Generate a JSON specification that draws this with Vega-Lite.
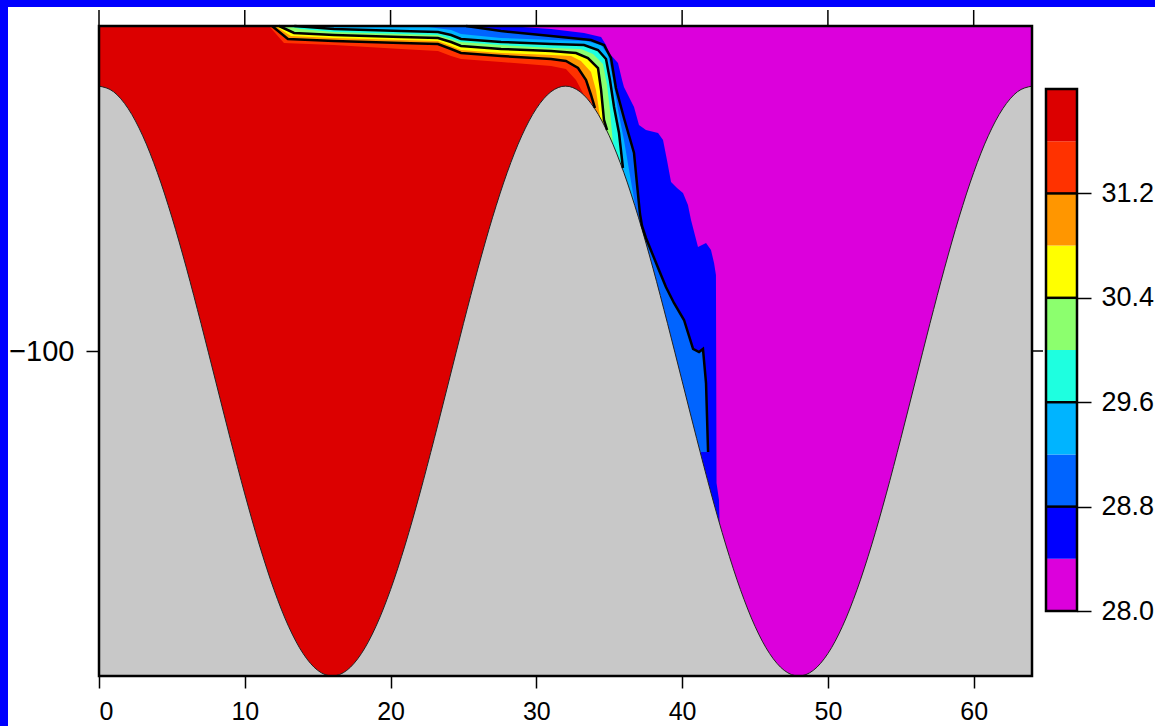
{
 "$schema": "https://vega.github.io/schema/vega-lite/v6.json",
 "background": "white",
 "padding": 0,
 "spacing": 0,
 "config": {
  "view": {"stroke": null},
  "axis": {"labelFont": "Liberation Sans", "labelFontSize": 27, "labelColor": "#000", "tickColor": "#000", "tickWidth": 1.5, "grid": false, "domain": false, "title": null}
 },
 "datasets": {
  "bnd": [
   {"b":9,"x":11.66,"z":0},{"b":9,"x":12.69,"z":-5.23},{"b":9,"x":16.12,"z":-5.85},{"b":9,"x":20.72,"z":-7.08},{"b":9,"x":23.25,"z":-7.69},{"b":9,"x":24.15,"z":-9.23},{"b":9,"x":24.83,"z":-10.15},{"b":9,"x":27.58,"z":-11.08},{"b":9,"x":31.01,"z":-12.31},{"b":9,"x":32.03,"z":-13.23},{"b":9,"x":32.72,"z":-16.62},{"b":9,"x":33.27,"z":-21.23},{"b":9,"x":33.34,"z":-200},{"b":9,"x":64,"z":-200},
   {"b":8,"x":11.87,"z":0},{"b":8,"x":12.96,"z":-4.0},{"b":8,"x":16.12,"z":-4.62},{"b":8,"x":20.72,"z":-5.23},{"b":8,"x":23.25,"z":-5.54},{"b":8,"x":24.15,"z":-7.08},{"b":8,"x":24.83,"z":-8.31},{"b":8,"x":27.58,"z":-9.23},{"b":8,"x":31.01,"z":-10.15},{"b":8,"x":32.03,"z":-10.77},{"b":8,"x":32.86,"z":-12.92},{"b":8,"x":33.41,"z":-16.62},{"b":8,"x":33.75,"z":-21.23},{"b":8,"x":34.02,"z":-25.23},{"b":8,"x":34.09,"z":-200},{"b":8,"x":64,"z":-200},
   {"b":7,"x":12.07,"z":0},{"b":7,"x":13.17,"z":-3.08},{"b":7,"x":16.12,"z":-3.69},{"b":7,"x":20.72,"z":-4.31},{"b":7,"x":23.25,"z":-4.62},{"b":7,"x":24.15,"z":-6.15},{"b":7,"x":24.83,"z":-7.38},{"b":7,"x":27.58,"z":-8.31},{"b":7,"x":31.01,"z":-8.92},{"b":7,"x":32.38,"z":-9.23},{"b":7,"x":33.06,"z":-10.77},{"b":7,"x":33.75,"z":-14.15},{"b":7,"x":34.09,"z":-19.69},{"b":7,"x":34.37,"z":-28.0},{"b":7,"x":34.44,"z":-200},{"b":7,"x":64,"z":-200},
   {"b":6,"x":12.35,"z":0},{"b":6,"x":13.38,"z":-2.15},{"b":6,"x":16.12,"z":-2.77},{"b":6,"x":20.72,"z":-3.38},{"b":6,"x":23.25,"z":-3.69},{"b":6,"x":24.15,"z":-4.92},{"b":6,"x":24.83,"z":-6.15},{"b":6,"x":27.58,"z":-7.08},{"b":6,"x":31.01,"z":-7.69},{"b":6,"x":32.72,"z":-8.31},{"b":6,"x":33.54,"z":-9.85},{"b":6,"x":34.23,"z":-12.92},{"b":6,"x":34.44,"z":-19.69},{"b":6,"x":34.64,"z":-28.92},{"b":6,"x":34.85,"z":-32.0},{"b":6,"x":34.92,"z":-200},{"b":6,"x":64,"z":-200},
   {"b":5,"x":12.83,"z":0},{"b":5,"x":13.86,"z":-0.92},{"b":5,"x":16.12,"z":-1.85},{"b":5,"x":20.72,"z":-2.46},{"b":5,"x":23.25,"z":-2.77},{"b":5,"x":24.15,"z":-4.0},{"b":5,"x":24.83,"z":-4.92},{"b":5,"x":27.58,"z":-5.85},{"b":5,"x":31.01,"z":-6.77},{"b":5,"x":33.06,"z":-7.08},{"b":5,"x":33.89,"z":-8.62},{"b":5,"x":34.57,"z":-11.69},{"b":5,"x":34.85,"z":-18.15},{"b":5,"x":35.05,"z":-25.85},{"b":5,"x":35.26,"z":-36.31},{"b":5,"x":35.33,"z":-200},{"b":5,"x":64,"z":-200},
   {"b":4,"x":13.4,"z":0},{"b":4,"x":16.12,"z":-0.92},{"b":4,"x":20.72,"z":-1.54},{"b":4,"x":23.25,"z":-1.85},{"b":4,"x":24.15,"z":-2.77},{"b":4,"x":24.83,"z":-4.0},{"b":4,"x":27.58,"z":-4.92},{"b":4,"x":31.01,"z":-5.54},{"b":4,"x":33.27,"z":-5.85},{"b":4,"x":34.23,"z":-7.38},{"b":4,"x":34.78,"z":-10.15},{"b":4,"x":35.05,"z":-16.62},{"b":4,"x":35.33,"z":-24.92},{"b":4,"x":35.67,"z":-32.92},{"b":4,"x":35.94,"z":-43.69},{"b":4,"x":36.01,"z":-200},{"b":4,"x":64,"z":-200},
   {"b":3,"x":22.09,"z":0},{"b":3,"x":24.15,"z":-1.23},{"b":3,"x":24.83,"z":-2.46},{"b":3,"x":27.58,"z":-3.69},{"b":3,"x":31.01,"z":-4.31},{"b":3,"x":33.41,"z":-4.62},{"b":3,"x":34.44,"z":-5.85},{"b":3,"x":34.92,"z":-8.92},{"b":3,"x":35.26,"z":-16.62},{"b":3,"x":35.60,"z":-25.85},{"b":3,"x":36.01,"z":-35.08},{"b":3,"x":36.36,"z":-44.31},{"b":3,"x":36.77,"z":-55.08},{"b":3,"x":36.84,"z":-200},{"b":3,"x":64,"z":-200},
   {"b":2,"x":25.18,"z":0},{"b":2,"x":27.58,"z":-1.54},{"b":2,"x":31.01,"z":-3.08},{"b":2,"x":33.75,"z":-4.31},{"b":2,"x":34.64,"z":-5.85},{"b":2,"x":35.12,"z":-9.85},{"b":2,"x":35.46,"z":-19.08},{"b":2,"x":36.01,"z":-28.31},{"b":2,"x":36.70,"z":-39.08},{"b":2,"x":36.91,"z":-48.92},{"b":2,"x":37.11,"z":-57.85},{"b":2,"x":37.25,"z":-61.54},{"b":2,"x":37.52,"z":-65.23},{"b":2,"x":38.41,"z":-75.08},{"b":2,"x":38.89,"z":-80.31},{"b":2,"x":39.44,"z":-85.23},{"b":2,"x":40.13,"z":-90.46},{"b":2,"x":40.75,"z":-99.38},{"b":2,"x":41.16,"z":-100.31},{"b":2,"x":41.43,"z":-99.38},{"b":2,"x":41.64,"z":-109.85},{"b":2,"x":41.78,"z":-131.08},{"b":2,"x":41.85,"z":-200},{"b":2,"x":64,"z":-200},
   {"b":1,"x":28.06,"z":0},{"b":1,"x":31.01,"z":-0.92},{"b":1,"x":33.27,"z":-2.15},{"b":1,"x":34.44,"z":-3.38},{"b":1,"x":34.78,"z":-5.85},{"b":1,"x":34.98,"z":-8.31},{"b":1,"x":35.60,"z":-11.38},{"b":1,"x":35.88,"z":-16.62},{"b":1,"x":36.01,"z":-18.77},{"b":1,"x":36.70,"z":-24.92},{"b":1,"x":37.04,"z":-30.46},{"b":1,"x":37.52,"z":-32.0},{"b":1,"x":38.35,"z":-32.92},{"b":1,"x":38.69,"z":-35.08},{"b":1,"x":38.96,"z":-41.23},{"b":1,"x":39.24,"z":-48.0},{"b":1,"x":39.65,"z":-49.85},{"b":1,"x":40.06,"z":-51.38},{"b":1,"x":40.40,"z":-55.08},{"b":1,"x":40.61,"z":-59.69},{"b":1,"x":41.09,"z":-68.0},{"b":1,"x":41.64,"z":-66.77},{"b":1,"x":41.98,"z":-68.92},{"b":1,"x":42.19,"z":-72.92},{"b":1,"x":42.32,"z":-76.62},{"b":1,"x":42.36,"z":-140.62},{"b":1,"x":42.53,"z":-145.85},{"b":1,"x":42.56,"z":-152.0},{"b":1,"x":42.63,"z":-200},{"b":1,"x":64,"z":-200}
  ],
  "patch": [{"x":41.2,"z":-131.08},{"x":41.9,"z":-131.08}],
  "bathy": [
   {"x":0,"z":-18.5},{"x":1,"z":-20.24},{"x":2,"z":-25.41},{"x":3,"z":-33.79},{"x":4,"z":-45.08},{"x":5,"z":-58.83},{"x":6,"z":-74.52},{"x":7,"z":-91.55},{"x":8,"z":-109.25},{"x":9,"z":-126.95},{"x":10,"z":-143.98},{"x":11,"z":-159.67},{"x":12,"z":-173.42},{"x":13,"z":-184.71},{"x":14,"z":-193.09},{"x":15,"z":-198.26},{"x":16,"z":-200},
   {"x":17,"z":-198.26},{"x":18,"z":-193.09},{"x":19,"z":-184.71},{"x":20,"z":-173.42},{"x":21,"z":-159.67},{"x":22,"z":-143.98},{"x":23,"z":-126.95},{"x":24,"z":-109.25},{"x":25,"z":-91.55},{"x":26,"z":-74.52},{"x":27,"z":-58.83},{"x":28,"z":-45.08},{"x":29,"z":-33.79},{"x":30,"z":-25.41},{"x":31,"z":-20.24},{"x":32,"z":-18.5},
   {"x":33,"z":-20.24},{"x":34,"z":-25.41},{"x":35,"z":-33.79},{"x":36,"z":-45.08},{"x":37,"z":-58.83},{"x":38,"z":-74.52},{"x":39,"z":-91.55},{"x":40,"z":-109.25},{"x":41,"z":-126.95},{"x":42,"z":-143.98},{"x":43,"z":-159.67},{"x":44,"z":-173.42},{"x":45,"z":-184.71},{"x":46,"z":-193.09},{"x":47,"z":-198.26},{"x":48,"z":-200},
   {"x":49,"z":-198.26},{"x":50,"z":-193.09},{"x":51,"z":-184.71},{"x":52,"z":-173.42},{"x":53,"z":-159.67},{"x":54,"z":-143.98},{"x":55,"z":-126.95},{"x":56,"z":-109.25},{"x":57,"z":-91.55},{"x":58,"z":-74.52},{"x":59,"z":-58.83},{"x":60,"z":-45.08},{"x":61,"z":-33.79},{"x":62,"z":-25.41},{"x":63,"z":-20.24},{"x":64,"z":-18.5}
  ],
  "xt": [{"t":0},{"t":10},{"t":20},{"t":30},{"t":40},{"t":50},{"t":60}],
  "cbar": [
   {"lo":28.0,"hi":28.4,"cls":"28.0"},{"lo":28.4,"hi":28.8,"cls":"28.4"},{"lo":28.8,"hi":29.2,"cls":"28.8"},{"lo":29.2,"hi":29.6,"cls":"29.2"},{"lo":29.6,"hi":30.0,"cls":"29.6"},
   {"lo":30.0,"hi":30.4,"cls":"30.0"},{"lo":30.4,"hi":30.8,"cls":"30.4"},{"lo":30.8,"hi":31.2,"cls":"30.8"},{"lo":31.2,"hi":31.6,"cls":"31.2"},{"lo":31.6,"hi":32.0,"cls":"31.6"}
  ],
  "cticks": [{"v":28.8},{"v":29.6},{"v":30.4},{"v":31.2}]
 },
 "vconcat": [
  {"width": 1155, "height": 7, "data": {"values": [{}]}, "mark": {"type": "rect", "color": "#0000ff"},
   "encoding": {"x": {"datum": 0, "type": "quantitative", "scale": {"domain": [0, 1]}, "axis": null}, "x2": {"datum": 1},
                "y": {"datum": 0, "type": "quantitative", "scale": {"domain": [0, 1]}, "axis": null}, "y2": {"datum": 1}}},
  {"spacing": 0, "hconcat": [
   {"width": 8, "height": 700, "data": {"values": [{}]}, "mark": {"type": "rect", "color": "#0000ff"},
    "encoding": {"x": {"datum": 0, "type": "quantitative", "scale": {"domain": [0, 1]}, "axis": null}, "x2": {"datum": 1},
                 "y": {"datum": 0, "type": "quantitative", "scale": {"domain": [0, 1]}, "axis": null}, "y2": {"datum": 1.02714}}},
   {
    "width": 933, "height": 650,
    "layer": [
     {"data": {"values": [{}]}, "mark": {"type": "rect", "color": "#dc0000"},
      "encoding": {
       "x": {"datum": 0, "type": "quantitative", "scale": {"domain": [0, 64], "nice": false, "zero": false},
             "axis": {"orient": "bottom", "values": [0,10,20,30,40,50,60], "tickSize": 12, "labelPadding": 11, "labelFontSize": 25, "labelAngle": 0}},
       "x2": {"datum": 64},
       "y": {"datum": 0, "type": "quantitative", "scale": {"domain": [-200, 0], "nice": false, "zero": false},
             "axis": {"orient": "left", "values": [-100], "tickSize": 13, "labelPadding": 12, "labelFontSize": 29}},
       "y2": {"datum": -200}}},
     {"data": {"name": "bnd"}, "transform": [{"filter": "datum.b == 9"}], "mark": {"type": "area", "color": "#ff3200"},
      "encoding": {"x": {"field": "x", "type": "quantitative"}, "y": {"field": "z", "type": "quantitative"}, "y2": {"datum": 0}}},
     {"data": {"name": "bnd"}, "transform": [{"filter": "datum.b == 8"}], "mark": {"type": "area", "color": "#ff9600"},
      "encoding": {"x": {"field": "x", "type": "quantitative"}, "y": {"field": "z", "type": "quantitative"}, "y2": {"datum": 0}}},
     {"data": {"name": "bnd"}, "transform": [{"filter": "datum.b == 7"}], "mark": {"type": "area", "color": "#ffff00"},
      "encoding": {"x": {"field": "x", "type": "quantitative"}, "y": {"field": "z", "type": "quantitative"}, "y2": {"datum": 0}}},
     {"data": {"name": "bnd"}, "transform": [{"filter": "datum.b == 6"}], "mark": {"type": "area", "color": "#8cff6e"},
      "encoding": {"x": {"field": "x", "type": "quantitative"}, "y": {"field": "z", "type": "quantitative"}, "y2": {"datum": 0}}},
     {"data": {"name": "bnd"}, "transform": [{"filter": "datum.b == 5"}], "mark": {"type": "area", "color": "#1effe0"},
      "encoding": {"x": {"field": "x", "type": "quantitative"}, "y": {"field": "z", "type": "quantitative"}, "y2": {"datum": 0}}},
     {"data": {"name": "bnd"}, "transform": [{"filter": "datum.b == 4"}], "mark": {"type": "area", "color": "#00b4ff"},
      "encoding": {"x": {"field": "x", "type": "quantitative"}, "y": {"field": "z", "type": "quantitative"}, "y2": {"datum": 0}}},
     {"data": {"name": "bnd"}, "transform": [{"filter": "datum.b == 3"}], "mark": {"type": "area", "color": "#0064ff"},
      "encoding": {"x": {"field": "x", "type": "quantitative"}, "y": {"field": "z", "type": "quantitative"}, "y2": {"datum": 0}}},
     {"data": {"name": "bnd"}, "transform": [{"filter": "datum.b == 2"}], "mark": {"type": "area", "color": "#0000ff"},
      "encoding": {"x": {"field": "x", "type": "quantitative"}, "y": {"field": "z", "type": "quantitative"}, "y2": {"datum": 0}}},
     {"data": {"name": "patch"}, "mark": {"type": "area", "color": "#0000ff"},
      "encoding": {"x": {"field": "x", "type": "quantitative"}, "y": {"field": "z", "type": "quantitative"}, "y2": {"datum": -200}}},
     {"data": {"name": "bnd"}, "transform": [{"filter": "datum.b == 1"}], "mark": {"type": "area", "color": "#dc00dc"},
      "encoding": {"x": {"field": "x", "type": "quantitative"}, "y": {"field": "z", "type": "quantitative"}, "y2": {"datum": 0}}},
     {"data": {"name": "bathy"}, "mark": {"type": "area", "color": "#c8c8c8", "interpolate": "monotone"},
      "encoding": {"x": {"field": "x", "type": "quantitative"}, "y": {"field": "z", "type": "quantitative"}, "y2": {"datum": -200}}},
     {"data": {"name": "bathy"}, "mark": {"type": "line", "color": "#222222", "strokeWidth": 1, "interpolate": "monotone"},
      "encoding": {"x": {"field": "x", "type": "quantitative"}, "y": {"field": "z", "type": "quantitative"}}},
     {"data": {"name": "bnd"}, "transform": [{"filter": "(datum.b == 2 || datum.b == 4 || datum.b == 6 || datum.b == 8) && datum.z > -199"}],
      "mark": {"type": "line", "color": "#000000", "strokeWidth": 2.5},
      "encoding": {"x": {"field": "x", "type": "quantitative"}, "y": {"field": "z", "type": "quantitative"}, "detail": {"field": "b", "type": "nominal"}}},
     {"data": {"values": [{}]}, "mark": {"type": "rect", "filled": false, "stroke": "#000000", "strokeWidth": 2.5},
      "encoding": {"x": {"datum": 0, "type": "quantitative"}, "x2": {"datum": 64}, "y": {"datum": 0, "type": "quantitative"}, "y2": {"datum": -200}}},
     {"data": {"name": "xt"}, "mark": {"type": "rule", "color": "#000000", "strokeWidth": 1.5},
      "encoding": {"x": {"field": "t", "type": "quantitative"}, "y": {"datum": 0, "type": "quantitative"}, "y2": {"datum": 4.92}}},
     {"data": {"values": [{}]}, "mark": {"type": "rule", "color": "#000000", "strokeWidth": 1.5},
      "encoding": {"x": {"datum": 64, "type": "quantitative"}, "x2": {"datum": 64.755}, "y": {"datum": -100, "type": "quantitative"}}}
    ]
   },
   {
    "width": 31, "height": 650,
    "layer": [
     {"data": {"name": "cbar"}, "mark": {"type": "rect"},
      "encoding": {
       "x": {"datum": 0, "type": "quantitative", "scale": {"domain": [0, 1], "nice": false, "zero": false}, "axis": null},
       "x2": {"datum": 1},
       "y": {"field": "lo", "type": "quantitative", "scale": {"domain": [27.502, 32.483], "nice": false, "zero": false},
             "axis": {"orient": "right", "values": [28.0, 28.8, 29.6, 30.4, 31.2], "format": ".1f", "tickSize": 14, "labelPadding": 10}},
       "y2": {"field": "hi"},
       "color": {"field": "cls", "type": "nominal", "legend": null,
                 "scale": {"domain": ["28.0","28.4","28.8","29.2","29.6","30.0","30.4","30.8","31.2","31.6"],
                           "range": ["#dc00dc","#0000ff","#0064ff","#00b4ff","#1effe0","#8cff6e","#ffff00","#ff9600","#ff3200","#dc0000"]}}}},
     {"data": {"name": "cticks"}, "mark": {"type": "rule", "color": "#000000", "strokeWidth": 2.5},
      "encoding": {"y": {"field": "v", "type": "quantitative"}}},
     {"data": {"values": [{}]}, "mark": {"type": "rect", "filled": false, "stroke": "#000000", "strokeWidth": 2.5},
      "encoding": {"x": {"datum": 0, "type": "quantitative"}, "x2": {"datum": 1}, "y": {"datum": 28, "type": "quantitative"}, "y2": {"datum": 32}}}
    ]
   }
  ]}
 ]
}
